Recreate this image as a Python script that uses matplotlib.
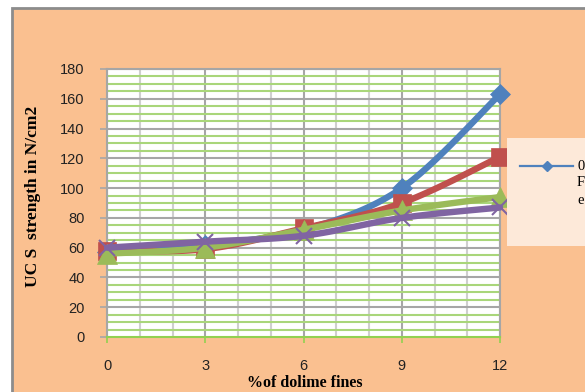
import numpy as np
import matplotlib
matplotlib.use('Agg')
import matplotlib.pyplot as plt
from matplotlib.patches import Rectangle
from matplotlib.lines import Line2D

# data
dolime = [0, 3, 6, 9, 12]
s_blue = [57, 62, 72, 100, 163]
s_red = [58, 59, 73, 90, 121]
s_green = [56, 60, 72, 85, 94]
s_purple = [60, 64, 68, 80, 87]

xlabel = "%of dolime fines"
ylabel = "UC S  strength in N/cm2"

ORANGE = '#FAC090'
LEGBG = '#FDE9D9'


def smooth(x, y, n=30):
    # excel-like smoothed line (cardinal bezier between points)
    p = np.column_stack([x, y]).astype(float)
    pts = np.vstack([p[0], p, p[-1]])
    out = []
    t = np.linspace(0, 1, n)[:, None]
    for i in range(1, len(pts) - 2):
        p0, p1, p2, p3 = pts[i - 1], pts[i], pts[i + 1], pts[i + 2]
        c1 = p1 + (p2 - p0) / 6
        c2 = p2 - (p3 - p1) / 6
        seg = ((1 - t) ** 3) * p1 + 3 * ((1 - t) ** 2) * t * c1 + 3 * (1 - t) * t ** 2 * c2 + t ** 3 * p2
        out.append(seg)
    out = np.vstack(out)
    return out[:, 0], out[:, 1]


fig = plt.figure(figsize=(5.85, 3.92), dpi=100)
fig.patch.set_facecolor('white')
W, H = 585, 392
fig.patches.append(Rectangle((12 / W, -0.1), 1.2, 1.1 - 8 / H, transform=fig.transFigure,
                             facecolor=ORANGE, edgecolor='#8C8C8C', linewidth=2, zorder=-5))

ax = fig.add_axes([107 / W, 1 - 337 / H, (500 - 107) / W, (337 - 69) / H])
ax.set_zorder(1)
ax.set_facecolor('white')
ax.set_xlim(0, 12)
ax.set_ylim(0, 180)

ax.set_xticks(dolime)
ax.set_xticks(np.arange(0, 13, 1), minor=True)
ax.set_yticks(np.arange(0, 181, 20))
ax.set_yticks(np.arange(0, 181, 5), minor=True)

ax.grid(False)
for v in np.arange(0, 13, 1):
    c = '#A6A6A6' if v % 3 == 0 else '#CFCFCF'
    ax.axvline(v, color=c, lw=1.5, zorder=1)
for v in np.arange(5, 181, 5):
    if v % 20 == 0:
        ax.axhline(v, color='#A6A6A6', lw=1.5, zorder=1)
    else:
        ax.axhline(v, color='#A9D67A', lw=1.5, zorder=1)

for sp in ['top', 'right', 'left']:
    ax.spines[sp].set_color('#A6A6A6')
    ax.spines[sp].set_linewidth(1.5)
ax.spines['bottom'].set_color('#92D050')
ax.spines['bottom'].set_linewidth(1.5)

ax.tick_params(axis='y', which='major', length=5, color='#A6A6A6', width=1.2, pad=11,
               labelsize=10.5, labelcolor='#222222')
ax.tick_params(axis='y', which='minor', length=0)
ax.tick_params(axis='x', which='major', length=4, color='#92D050', width=1.2, pad=12,
               labelsize=10.5, labelcolor='#222222')
ax.tick_params(axis='x', which='minor', length=0)
for lab in ax.get_xticklabels() + ax.get_yticklabels():
    lab.set_family('Liberation Sans')

series = [
    (s_blue, '#4F81BD', 'D', 10),
    (s_red, '#C0504D', 's', 13),
    (s_green, '#9BBB59', '^', 14),
    (s_purple, '#8064A2', 'x', 12),
]
for i, (ys, col, mk, ms) in enumerate(series):
    sx, sy = smooth(dolime, ys)
    ax.plot(sx, sy, color=col, lw=4.6, solid_capstyle='round', zorder=3 + i, clip_on=False)
    ax.plot(dolime, ys, linestyle='none', marker=mk, markersize=ms, color=col,
            markeredgewidth=1.5 if mk == 'x' else 0.5, zorder=3 + i, clip_on=False)

fig.text(305 / W, 1 - 383 / H, xlabel, ha='center', va='center', fontsize=11.5,
         fontweight='bold', family='Liberation Serif')
fig.text(33 / W, 1 - 196 / H, ylabel, ha='center', va='center', rotation=90, fontsize=12.5,
         fontweight='bold', family='Liberation Serif')

# legend box (runs off the right edge)
fig.patches.append(Rectangle((507 / W, 1 - 246 / H), 100 / W, 108 / H, transform=fig.transFigure,
                             facecolor=LEGBG, edgecolor='none', zorder=5))
fig.lines.append(Line2D([520 / W, 573 / W], [1 - 166 / H, 1 - 166 / H], transform=fig.transFigure,
                        color='#4F81BD', lw=1.6, zorder=6))
fig.lines.append(Line2D([547 / W], [1 - 166 / H], transform=fig.transFigure, marker='D',
                        markersize=5, color='#4F81BD', linestyle='none', zorder=6))
for txt, yy in [('0', 166), ('F', 183), ('e', 200)]:
    fig.text(577 / W, 1 - yy / H, txt, ha='left', va='center', fontsize=10.5,
             family='Liberation Serif', zorder=7)

fig.savefig('out.png', dpi=100, facecolor=fig.get_facecolor())
